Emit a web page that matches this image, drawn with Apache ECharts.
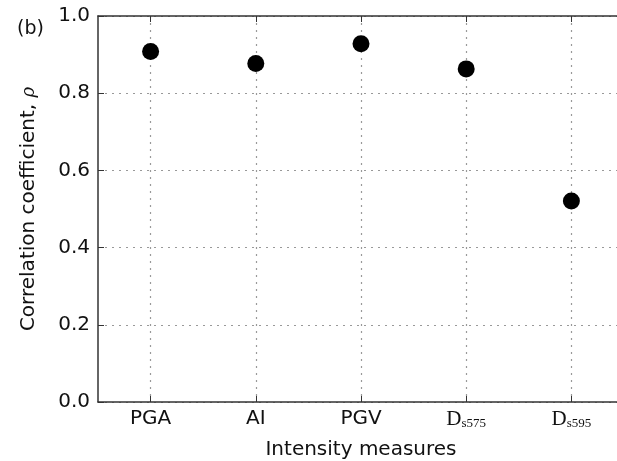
<!DOCTYPE html>
<html>
<head>
<meta charset="utf-8">
<script src="https://cdn.jsdelivr.net/npm/echarts@6/dist/echarts.min.js"></script>
<style>html,body{margin:0;padding:0;background:#fff}#c{width:617px;height:461px}</style>
</head>
<body>
<div id="c"></div>
<script>
var categories = ['PGA', 'AI', 'PGV', 'Ds575', 'Ds595'];
var rhoValues = [0.908, 0.877, 0.928, 0.863, 0.521];
var yTicks = [0.0, 0.2, 0.4, 0.6, 0.8, 1.0];

var chart = echarts.init(document.getElementById('c'), null, {renderer: 'canvas'});
var sans = 'DejaVu Sans';
var axisColor = '#333';
var gridLine = {show: true, alignWithLabel: true, interval: 0, lineStyle: {color: '#999', type: [2, 5], width: 1.2}};

chart.setOption({
  animation: false,
  backgroundColor: '#fff',
  graphic: [{
    type: 'text', left: 17, top: 20,
    style: {text: '(b)', font: '19px "DejaVu Sans"', fill: '#111'}
  }],
  grid: {left: 98, top: 16, width: 526, height: 386, outerBoundsMode: 'none', containLabel: false},
  xAxis: [{
    type: 'category',
    data: categories,
    boundaryGap: true,
    position: 'bottom',
    name: 'Intensity measures',
    nameLocation: 'middle',
    nameGap: 38,
    nameTextStyle: {fontFamily: sans, fontSize: 20, color: '#111'},
    axisLine: {show: true, lineStyle: {color: axisColor, width: 1.5}},
    axisTick: {show: true, inside: true, alignWithLabel: true, interval: 0, length: 6, lineStyle: {color: axisColor, width: 1}},
    axisLabel: {
      interval: 0, margin: 7, fontFamily: sans, fontSize: 20, color: '#111',
      formatter: function (v) {
        if (v.indexOf('Ds') === 0) return '{d|D}{s|s' + v.slice(2) + '}';
        return v;
      },
      rich: {
        d: {fontFamily: 'Liberation Serif', fontSize: 21, color: '#111'},
        s: {fontFamily: 'Liberation Serif', fontSize: 13, color: '#111', padding: [8, 0, 0, 0]}
      }
    },
    splitLine: gridLine
  }, {
    type: 'category',
    data: categories,
    boundaryGap: true,
    position: 'top',
    axisLine: {show: true, lineStyle: {color: axisColor, width: 1.5}},
    axisTick: {show: true, inside: true, alignWithLabel: true, interval: 0, length: 6, lineStyle: {color: axisColor, width: 1}},
    axisLabel: {show: false},
    splitLine: {show: false}
  }],
  yAxis: [{
    type: 'value',
    min: yTicks[0],
    max: yTicks[yTicks.length - 1],
    interval: 0.2,
    name: 'Correlation coefficient, {r|ρ}',
    nameLocation: 'middle',
    nameGap: 59,
    nameTextStyle: {
      fontFamily: sans, fontSize: 20, color: '#111',
      rich: {r: {fontFamily: 'DejaVu Serif', fontStyle: 'italic', fontSize: 18, color: '#111'}}
    },
    axisLine: {show: true, lineStyle: {color: axisColor, width: 1.5}},
    axisTick: {show: true, inside: true, length: 6, lineStyle: {color: axisColor, width: 1}},
    axisLabel: {
      margin: 8, fontFamily: sans, fontSize: 20, color: '#111',
      formatter: function (v) { return v.toFixed(1); }
    },
    splitLine: {show: true, lineStyle: {color: '#999', type: [2, 5], width: 1.2}}
  }],
  series: [{
    type: 'scatter',
    data: rhoValues,
    symbol: 'circle',
    symbolSize: 17,
    itemStyle: {color: '#000', opacity: 1},
    xAxisIndex: 0,
    yAxisIndex: 0
  }]
});
</script>
</body>
</html>
